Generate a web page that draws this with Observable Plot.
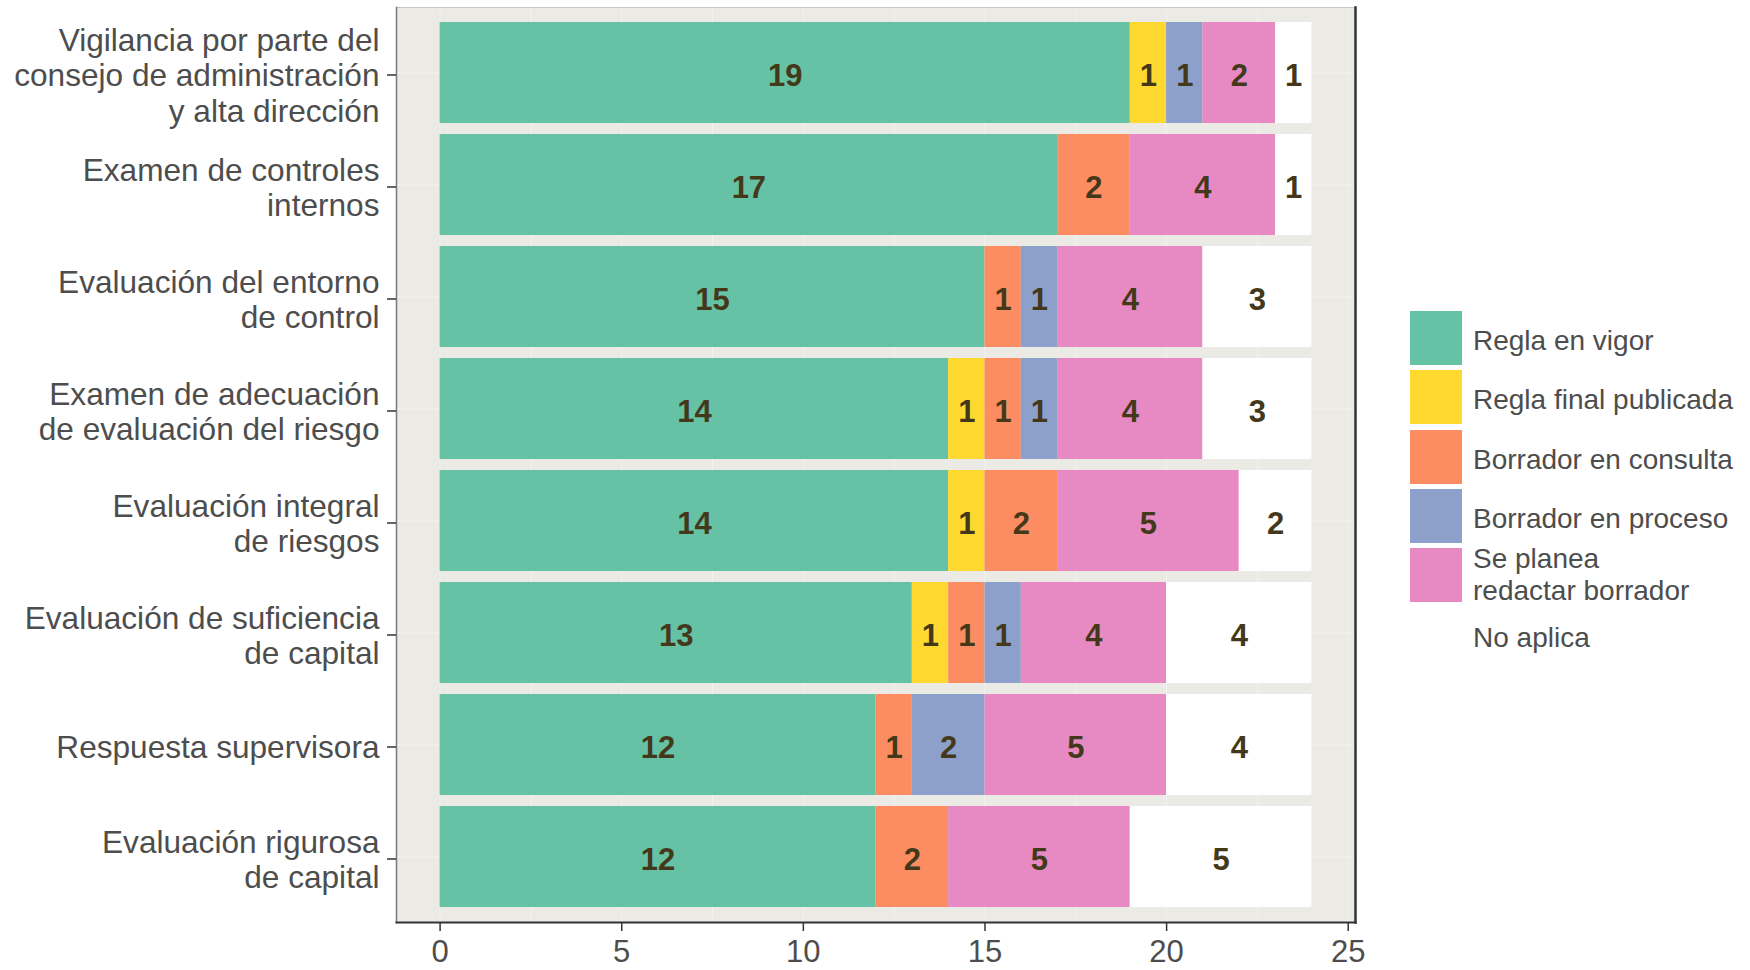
<!DOCTYPE html>
<html>
<head>
<meta charset="utf-8">
<script src="https://cdn.jsdelivr.net/npm/d3@7"></script>
<script src="https://cdn.jsdelivr.net/npm/@observablehq/plot@0.6"></script>
<style>
  html, body { margin: 0; padding: 0; background: #ffffff; }
  #wrap { position: relative; width: 1750px; height: 970px; font-family: "Liberation Sans", Arial, sans-serif; }
  #legend { position: absolute; left: 1410px; top: 311px; }
  .item { position: absolute; left: 0; width: 340px; height: 54px; }
  .sw { position: absolute; left: 0; top: 0; width: 52px; height: 54px; }
  .lab { position: absolute; left: 63px; top: 0; height: 54px; display: flex; align-items: center; font-size: 28px; color: #4d4d4d; line-height: 32px; white-space: nowrap; padding-top: 6px; box-sizing: border-box; }
</style>
</head>
<body>
<div id="wrap"><div id="chart"></div><div id="legend"></div></div>
<script>
const categories = [
  "Vigilancia por parte del\nconsejo de administración\ny alta dirección",
  "Examen de controles\ninternos",
  "Evaluación del entorno\nde control",
  "Examen de adecuación\nde evaluación del riesgo",
  "Evaluación integral\nde riesgos",
  "Evaluación de suficiencia\nde capital",
  "Respuesta supervisora",
  "Evaluación rigurosa\nde capital"
];
const statuses = ["Regla en vigor", "Regla final publicada", "Borrador en consulta", "Borrador en proceso", "Se planea\nredactar borrador", "No aplica"];
const colors = ["#66C2A5", "#FFD92F", "#FC8D62", "#8DA0CB", "#E78AC3", "#FFFFFF"];
const reglaEnVigor        = [19, 17, 15, 14, 14, 13, 12, 12];
const reglaFinalPublicada = [1, 0, 0, 1, 1, 1, 0, 0];
const borradorConsulta    = [0, 2, 1, 1, 2, 1, 1, 2];
const borradorProceso     = [1, 0, 1, 1, 0, 1, 2, 0];
const sePlanea            = [2, 4, 4, 4, 5, 4, 5, 5];
const noAplica            = [1, 1, 3, 3, 2, 4, 4, 5];
const xTicks = [0, 5, 10, 15, 20, 25];
const xGrid = [0, 2.5, 5, 7.5, 10, 12.5, 15, 17.5, 20, 22.5, 25];

const series = [reglaEnVigor, reglaFinalPublicada, borradorConsulta, borradorProceso, sePlanea, noAplica];
const data = [];
categories.forEach((c, i) => {
  series.forEach((s, j) => {
    if (s[i] > 0) data.push({cat: c, status: statuses[j], value: s[i]});
  });
});

const stackOpts = {order: statuses};

const chart = Plot.plot({
  width: 1750,
  height: 970,
  marginLeft: 396,
  marginRight: 395,
  marginTop: 7,
  marginBottom: 48,
  style: {fontFamily: "Liberation Sans, Arial, sans-serif", background: "transparent"},
  x: {domain: [-1.2, 25.2], axis: null, label: null},
  y: {domain: categories, padding: 0.1, paddingOuter: 0.13, axis: null, label: null},
  color: {domain: statuses, range: colors},
  marks: [
    Plot.frame({fill: "#EBEAE5", stroke: null}),
    Plot.ruleX(xGrid, {stroke: "#F3F2EE", strokeWidth: 1}),
    Plot.ruleY(categories, {y: d => d, stroke: "#F3F2EE", strokeWidth: 1}),
    Plot.barX(data, Plot.stackX({...stackOpts, x: "value", y: "cat", z: "status", fill: "status"})),
    Plot.text(data, Plot.stackX({...stackOpts, x: "value", y: "cat", z: "status", text: d => String(d.value), fill: "#43391a", fontWeight: "bold", fontSize: 31, dy: 3})),
    Plot.frame({anchor: "top", stroke: "#c8c8c4", strokeWidth: 1}),
    Plot.frame({anchor: "left", stroke: "#7a7a7a", strokeWidth: 1.5}),
    Plot.frame({anchor: "right", stroke: "#333333", strokeWidth: 2.5}),
    Plot.frame({anchor: "bottom", stroke: "#333333", strokeWidth: 2}),
    Plot.axisX(xTicks, {label: null, tickSize: 9, tickPadding: 8, fontSize: 31, color: "#4d4d4d", stroke: "#333333", strokeWidth: 1.5, tickFormat: d => String(d)}),
    Plot.axisY({label: null, tickSize: 9, tickPadding: 8, fontSize: 31.6, lineHeight: 1.13, dy: 2, color: "#4d4d4d", stroke: "#333333", strokeWidth: 1.5, tickFormat: d => d})
  ]
});
document.getElementById("chart").appendChild(chart);

const legend = document.getElementById("legend");
statuses.forEach((s, i) => {
  const item = document.createElement("div");
  item.className = "item";
  item.style.top = (i * 59.3) + "px";
  const sw = document.createElement("div");
  sw.className = "sw";
  sw.style.background = colors[i];
  const lab = document.createElement("div");
  lab.className = "lab";
  lab.innerHTML = s.replace("\n", "<br>");
  if (s.includes("\n")) { lab.style.paddingTop = "0px"; }
  item.appendChild(sw);
  item.appendChild(lab);
  legend.appendChild(item);
});
</script>
</body>
</html>
